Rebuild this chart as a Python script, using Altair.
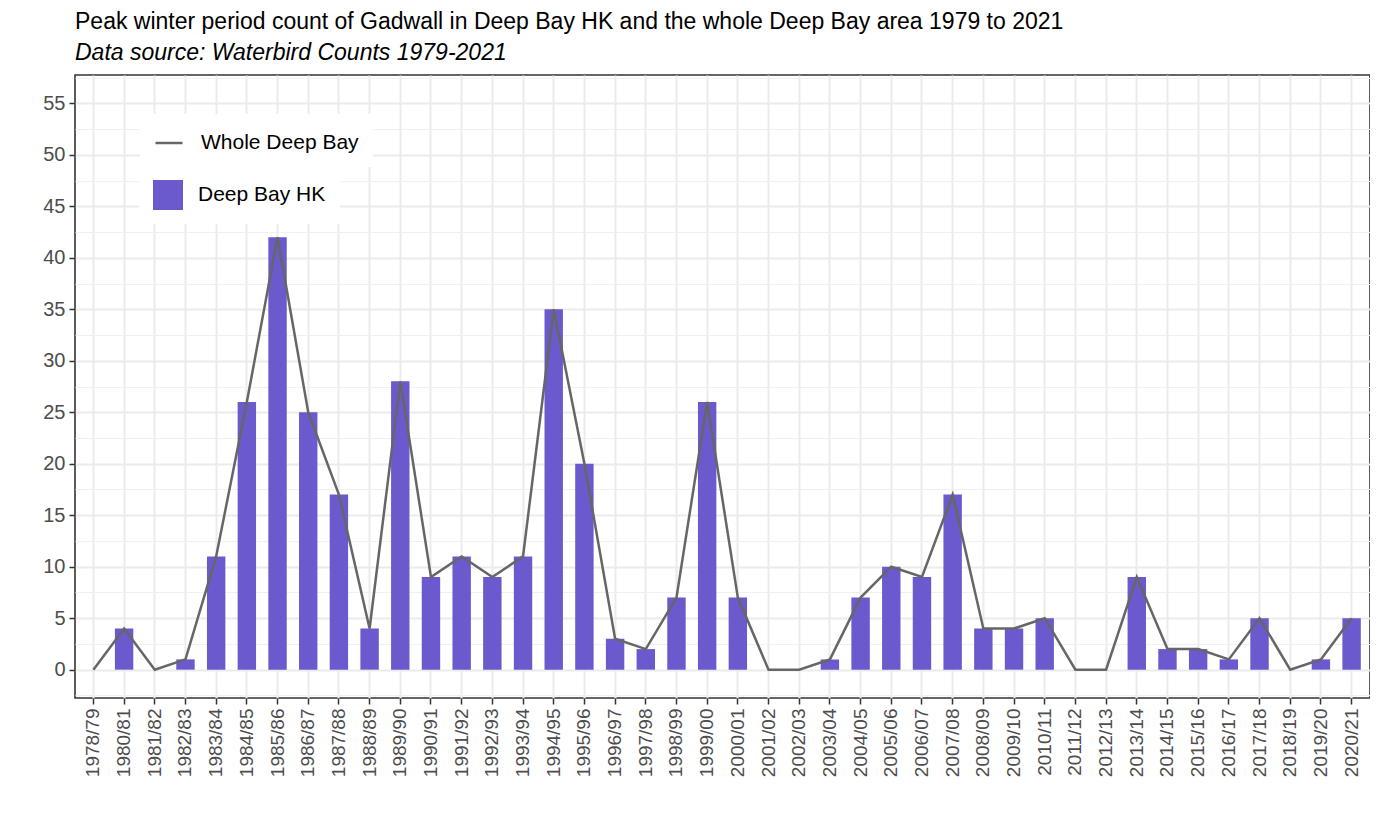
import altair as alt
import pandas as pd

seasons = ["1978/79", "1980/81", "1981/82", "1982/83", "1983/84", "1984/85", "1985/86",
           "1986/87", "1987/88", "1988/89", "1989/90", "1990/91", "1991/92", "1992/93",
           "1993/94", "1994/95", "1995/96", "1996/97", "1997/98", "1998/99", "1999/00",
           "2000/01", "2001/02", "2002/03", "2003/04", "2004/05", "2005/06", "2006/07",
           "2007/08", "2008/09", "2009/10", "2010/11", "2011/12", "2012/13", "2013/14",
           "2014/15", "2015/16", "2016/17", "2017/18", "2018/19", "2019/20", "2020/21"]

hk_counts = [0, 4, 0, 1, 11, 26, 42, 25, 17, 4, 28, 9, 11, 9, 11, 35, 20, 3, 2, 7, 26,
             7, 0, 0, 1, 7, 10, 9, 17, 4, 4, 5, 0, 0, 9, 2, 2, 1, 5, 0, 1, 5]

whole_counts = [0, 4, 0, 1, 11, 26, 42, 25, 17, 4, 28, 9, 11, 9, 11, 35, 20, 3, 2, 7, 26,
                7, 0, 0, 1, 7, 10, 9, 17, 4, 4, 5, 0, 0, 9, 2, 2, 1, 5, 0, 1, 5]

y_major = [0, 5, 10, 15, 20, 25, 30, 35, 40, 45, 50, 55]
y_minor = [-2.5, 2.5, 7.5, 12.5, 17.5, 22.5, 27.5, 32.5, 37.5, 42.5, 47.5, 52.5, 57.5]

HK_LABEL = "Deep Bay HK"
WHOLE_LABEL = "Whole Deep Bay"
TITLE = "Peak winter period count of Gadwall in Deep Bay HK and the whole Deep Bay area 1979 to 2021"
SUBTITLE = "Data source: Waterbird Counts 1979-2021"

df = pd.DataFrame({
    "season": seasons,
    "hk": hk_counts,
    "whole": whole_counts,
    "hk_series": [HK_LABEL] * len(seasons),
    "whole_series": [WHOLE_LABEL] * len(seasons),
})

FONT = "Liberation Sans"
minor_test = "datum.value % 5 !== 0"

x_scale = alt.Scale(paddingInner=0.4, paddingOuter=0.3)
x_axis = alt.Axis(title=None, labelAngle=270, labelAlign="right", labelBaseline="middle",
                  labelFontSize=19, labelColor="#4D4D4D", labelFont=FONT,
                  tickSize=6, tickColor="#333333", tickWidth=1.5, labelPadding=4,
                  grid=True, gridColor="#EBEBEB", gridWidth=2, domain=False,
                  bandPosition=0.5, labelOverlap=False)

y_scale = alt.Scale(domain=[-2.75, 57.75], nice=False, zero=False)
y_axis = alt.Axis(title=None, values=sorted(y_major + y_minor),
                  labelExpr="datum.value % 5 === 0 ? datum.label : ''",
                  labelFontSize=20, labelColor="#4D4D4D", labelFont=FONT,
                  labelOverlap=False, labelFlush=False,
                  grid=True,
                  gridColor={"condition": {"test": minor_test, "value": "#F0F0F0"}, "value": "#EBEBEB"},
                  gridWidth={"condition": {"test": minor_test, "value": 1.2}, "value": 2},
                  tickOpacity={"condition": {"test": minor_test, "value": 0}, "value": 1},
                  tickSize=6, tickColor="#333333", tickWidth=1.5, labelPadding=4,
                  domain=False, minExtent=62, maxExtent=62)

bars = alt.Chart(df).mark_bar(opacity=1).encode(
    x=alt.X("season:N", sort=seasons, scale=x_scale, axis=x_axis),
    y=alt.Y("hk:Q", scale=y_scale, axis=y_axis),
    color=alt.Color("hk_series:N",
                    scale=alt.Scale(domain=[HK_LABEL], range=["#6A5ACD"]),
                    legend=alt.Legend(title=None, orient="none", legendX=64, legendY=91,
                                      symbolType="square", symbolSize=900,
                                      symbolStrokeWidth=0, symbolOpacity=1,
                                      labelFontSize=21, labelFont=FONT, labelColor="black",
                                      labelOffset=15, labelLimit=400, padding=14,
                                      fillColor="white")),
)

line = alt.Chart(df).mark_line(strokeWidth=2.5).encode(
    x=alt.X("season:N", sort=seasons, scale=x_scale, axis=x_axis),
    y=alt.Y("whole:Q", scale=y_scale, axis=y_axis),
    stroke=alt.Stroke("whole_series:N",
                      scale=alt.Scale(domain=[WHOLE_LABEL], range=["#666666"]),
                      legend=alt.Legend(title=None, orient="none", legendX=65, legendY=39,
                                        symbolType="stroke", symbolSize=729,
                                        symbolStrokeWidth=2.5,
                                        labelFontSize=21, labelFont=FONT, labelColor="black",
                                        labelOffset=17, labelLimit=400, padding=14,
                                        fillColor="white")),
)

chart = alt.layer(bars, line).properties(
    width=1295,
    height=623,
    title=alt.TitleParams(text=TITLE, subtitle=SUBTITLE, anchor="start", frame="group",
                          font=FONT, fontSize=23, fontWeight="normal", color="black",
                          subtitleFont=FONT, subtitleFontSize=23, subtitleFontStyle="italic",
                          subtitleColor="black", subtitlePadding=8, offset=3),
    padding={"left": 5, "top": 2, "right": 0, "bottom": 5},
).configure(
    background="white"
).configure_view(
    stroke="#333333", strokeWidth=1.6
)

chart.save("out.html", embed_options={"renderer": "svg", "actions": False})
